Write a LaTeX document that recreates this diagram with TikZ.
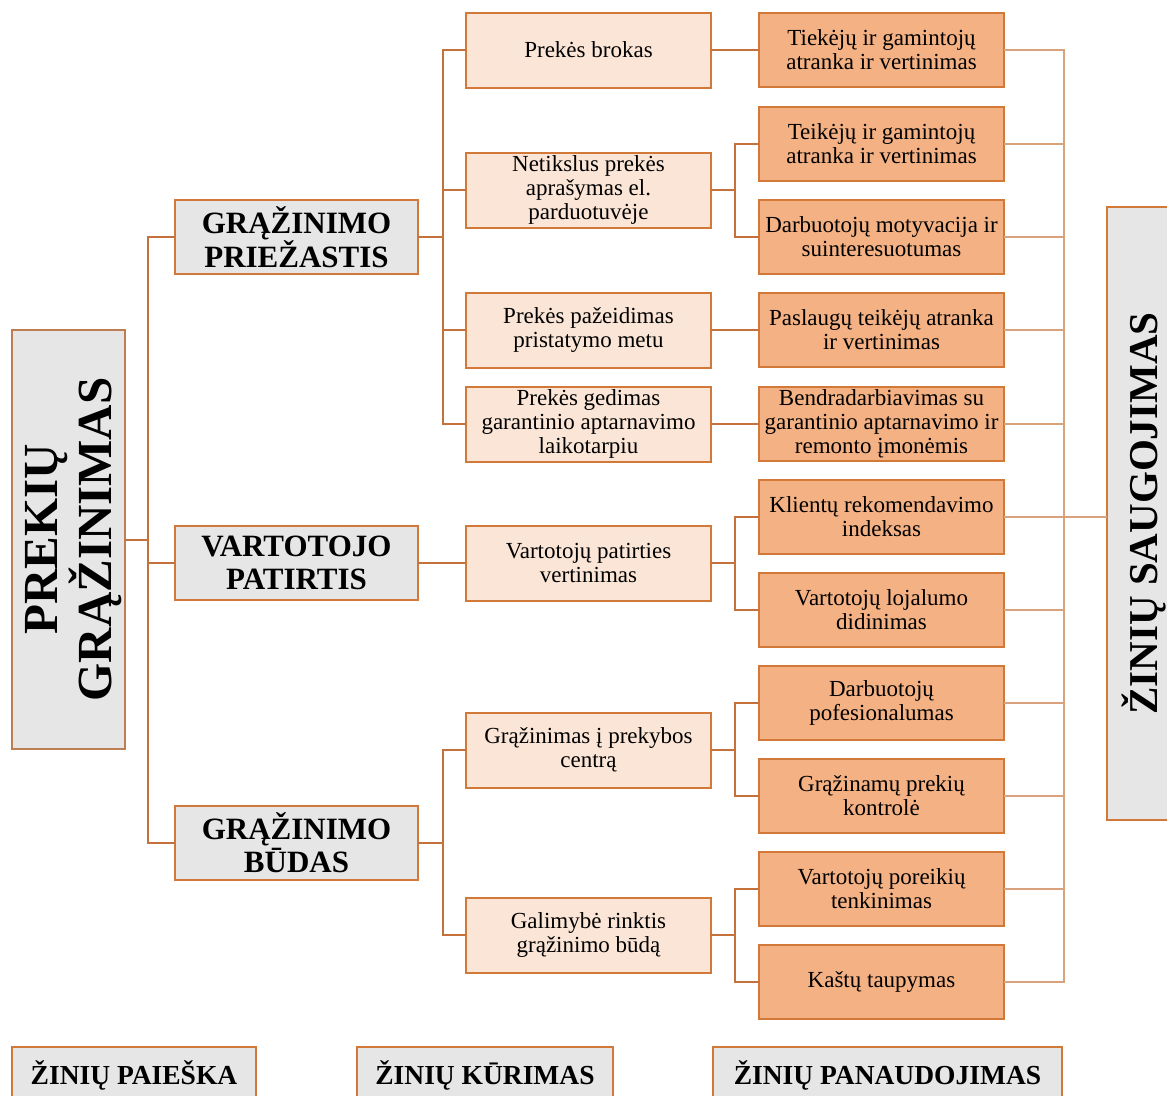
\documentclass[tikz,border=0pt]{standalone}
\usepackage{fontspec}
\setmainfont{Liberation Serif}
\definecolor{greyfill}{HTML}{E7E6E6}
\definecolor{peach}{HTML}{FBE5D6}
\definecolor{apricot}{HTML}{F4B183}
\definecolor{boxline}{HTML}{D27838}
\definecolor{mainline}{HTML}{BC7E52}
\definecolor{linkcol}{HTML}{C4713C}
\definecolor{buscol}{HTML}{D8A27C}
\begin{document}
\begin{tikzpicture}[x=1pt,y=-1pt,
  base/.style={draw=boxline, line width=2pt, align=center, inner sep=1pt, outer sep=0pt},
  topic/.style={base, fill=greyfill, minimum width=243pt, minimum height=74pt,
    font=\fontsize{31}{33}\selectfont\bfseries},
  cause/.style={base, fill=peach, minimum width=245pt, minimum height=75pt,
    font=\fontsize{23}{24}\selectfont},
  action/.style={base, fill=apricot, minimum width=245pt, minimum height=74pt,
    font=\fontsize{23}{24}\selectfont},
  phase/.style={base, fill=greyfill, minimum height=56pt,
    font=\fontsize{27.5}{30}\selectfont\bfseries},
  conn/.style={draw=linkcol, line width=2pt},
  bus/.style={draw=buscol, line width=1.2pt}]

\useasboundingbox (0,0) rectangle (1167,1095);
\clip (0,0) rectangle (1167,1095);
\fill[white] (0,0) rectangle (1167,1095);

% root box with its upright-reading title
\node[base, draw=mainline, fill=greyfill, minimum width=113pt, minimum height=419pt] (main) at (68.5,539.5) {};
\node[rotate=90, align=center, inner sep=0pt, font=\fontsize{49}{47}\selectfont\bfseries]
  (maintitle) at (74,539.5) {PREKIŲ\\GRĄŽINIMAS};

% knowledge storage column
\node[base, fill=greyfill, rotate=90, minimum width=613pt, minimum height=73pt,
  font=\fontsize{41}{45}\selectfont\bfseries] (zs) at (1143.5,513.5) {ŽINIŲ SAUGOJIMAS};

% second level
\node[topic] (gp) at (296.5,237) {GRĄŽINIMO\\PRIEŽASTIS};
\node[topic] (vp) at (296.5,563) {VARTOTOJO\\PATIRTIS};
\node[topic] (gb) at (296.5,843) {GRĄŽINIMO\\BŪDAS};

% third level
\node[cause] (pb)  at (588.5,50)  {Prekės brokas};
\node[cause] (na)  at (588.5,190) {Netikslus prekės\\aprašymas el.\\parduotuvėje};
\node[cause] (pp)  at (588.5,330) {Prekės pažeidimas\\pristatymo metu};
\node[cause] (pg)  at (588.5,424) {Prekės gedimas\\garantinio aptarnavimo\\laikotarpiu};
\node[cause] (vpv) at (588.5,563) {Vartotojų patirties\\vertinimas};
\node[cause] (gr)  at (588.5,750) {Grąžinimas į prekybos\\centrą};
\node[cause] (gal) at (588.5,935) {Galimybė rinktis\\grąžinimo būdą};

% fourth level
\node[action] (t1) at (881.5,50)  {Tiekėjų ir gamintojų\\atranka ir vertinimas};
\node[action] (t2) at (881.5,144) {Teikėjų ir gamintojų\\atranka ir vertinimas};
\node[action] (dm) at (881.5,237) {Darbuotojų motyvacija ir\\suinteresuotumas};
\node[action] (ps) at (881.5,330) {Paslaugų teikėjų atranka\\ir vertinimas};
\node[action] (bd) at (881.5,424) {Bendradarbiavimas su\\garantinio aptarnavimo ir\\remonto įmonėmis};
\node[action] (kr) at (881.5,517) {Klientų rekomendavimo\\indeksas};
\node[action] (vl) at (881.5,610) {Vartotojų lojalumo\\didinimas};
\node[action] (dp) at (881.5,703) {Darbuotojų\\pofesionalumas};
\node[action] (gk) at (881.5,796) {Grąžinamų prekių\\kontrolė};
\node[action] (vt) at (881.5,889) {Vartotojų poreikių\\tenkinimas};
\node[action] (kt) at (881.5,982) {Kaštų taupymas};

% knowledge phases along the bottom
\node[phase, minimum width=244pt] (paieska) at (134,1075) {ŽINIŲ PAIEŠKA};
\node[phase, minimum width=256pt] (kurimas) at (485,1075) {ŽINIŲ KŪRIMAS};
\node[phase, minimum width=349pt] (panaud) at (887.5,1075) {ŽINIŲ PANAUDOJIMAS};

% root to second level
\draw[conn] (main.east) -- ++(23,0);
\draw[conn] (gp.west) -- ++(-27,0) |- (gb.west);
\draw[conn] (vp.west) -- ++(-27,0);

% second to third level
\draw[conn] (gp.east) -- ++(25,0);
\draw[conn] (pb.west) -- ++(-23,0) |- (pg.west);
\draw[conn] (na.west) -- ++(-23,0);
\draw[conn] (pp.west) -- ++(-23,0);
\draw[conn] (vp.east) -- (vpv.west);
\draw[conn] (gb.east) -- ++(25,0);
\draw[conn] (gr.west) -- ++(-23,0) |- (gal.west);

% third to fourth level
\draw[conn] (pb.east) -- (t1.west);
\draw[conn] (na.east) -- ++(24,0);
\draw[conn] (t2.west) -- ++(-24,0) |- (dm.west);
\draw[conn] (pp.east) -- (ps.west);
\draw[conn] (pg.east) -- (bd.west);
\draw[conn] (vpv.east) -- ++(24,0);
\draw[conn] (kr.west) -- ++(-24,0) |- (vl.west);
\draw[conn] (gr.east) -- ++(24,0);
\draw[conn] (dp.west) -- ++(-24,0) |- (gk.west);
\draw[conn] (gal.east) -- ++(24,0);
\draw[conn] (vt.west) -- ++(-24,0) |- (kt.west);

% collecting bus into knowledge storage
\draw[bus] (t1.east) -- ++(60,0) |- (kt.east);
\foreach \n in {t2,dm,ps,bd,vl,dp,gk,vt}
  \draw[bus] (\n.east) -- ++(60,0);
\draw[bus] (kr.east) -- (kr.east -| zs.north);
\end{tikzpicture}
\end{document}
